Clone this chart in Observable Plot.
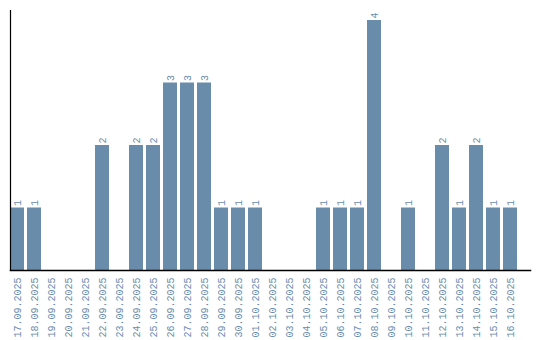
<!DOCTYPE html>
<html>
<head>
<meta charset="utf-8">
<script src="https://cdn.jsdelivr.net/npm/d3@7"></script>
<script src="https://cdn.jsdelivr.net/npm/@observablehq/plot@0.6"></script>
<style>
  html, body { margin: 0; padding: 0; background: #fff; }
</style>
</head>
<body>
<div id="chart"></div>
<script>
const dates = [
  "17.09.2025","18.09.2025","19.09.2025","20.09.2025","21.09.2025","22.09.2025",
  "23.09.2025","24.09.2025","25.09.2025","26.09.2025","27.09.2025","28.09.2025",
  "29.09.2025","30.09.2025","01.10.2025","02.10.2025","03.10.2025","04.10.2025",
  "05.10.2025","06.10.2025","07.10.2025","08.10.2025","09.10.2025","10.10.2025",
  "11.10.2025","12.10.2025","13.10.2025","14.10.2025","15.10.2025","16.10.2025"
];
const counts = [1,1,0,0,0,2,0,2,2,3,3,3,1,1,1,0,0,0,1,1,1,4,0,1,0,2,1,2,1,1];

const data = dates.map((d, i) => ({date: d, count: counts[i]}));
const barColor = "#6a8cab";

const chart = Plot.plot({
  width: 540,
  height: 340,
  marginLeft: 10,
  marginRight: 10,
  marginTop: 10,
  marginBottom: 70,
  style: {fontFamily: "'Liberation Mono', 'Courier New', monospace", fontSize: "10px", background: "#fff"},
  x: {domain: dates, paddingInner: 0.18, paddingOuter: 0.37, align: 0, round: true},
  y: {domain: [0, 4.16]},
  marks: [
    Plot.barY(data, {x: "date", y: "count", fill: barColor}),
    Plot.text(data.filter(d => d.count > 0), {
      x: "date", y: "count", text: d => String(d.count),
      rotate: -90, textAnchor: "start", dy: -2, fill: barColor, fontSize: 10
    }),
    Plot.axisX({tickRotate: -90, tickSize: 0, tickPadding: 7, fill: barColor, fontSize: 10, label: null}),
    Plot.axisY({ticks: [], label: null, tickSize: 0}),
    Plot.frame({anchor: "left", stroke: "#000", strokeWidth: 1.2}),
    Plot.frame({anchor: "bottom", stroke: "#000", strokeWidth: 1.5})
  ]
});
document.getElementById("chart").appendChild(chart);
</script>
</body>
</html>
